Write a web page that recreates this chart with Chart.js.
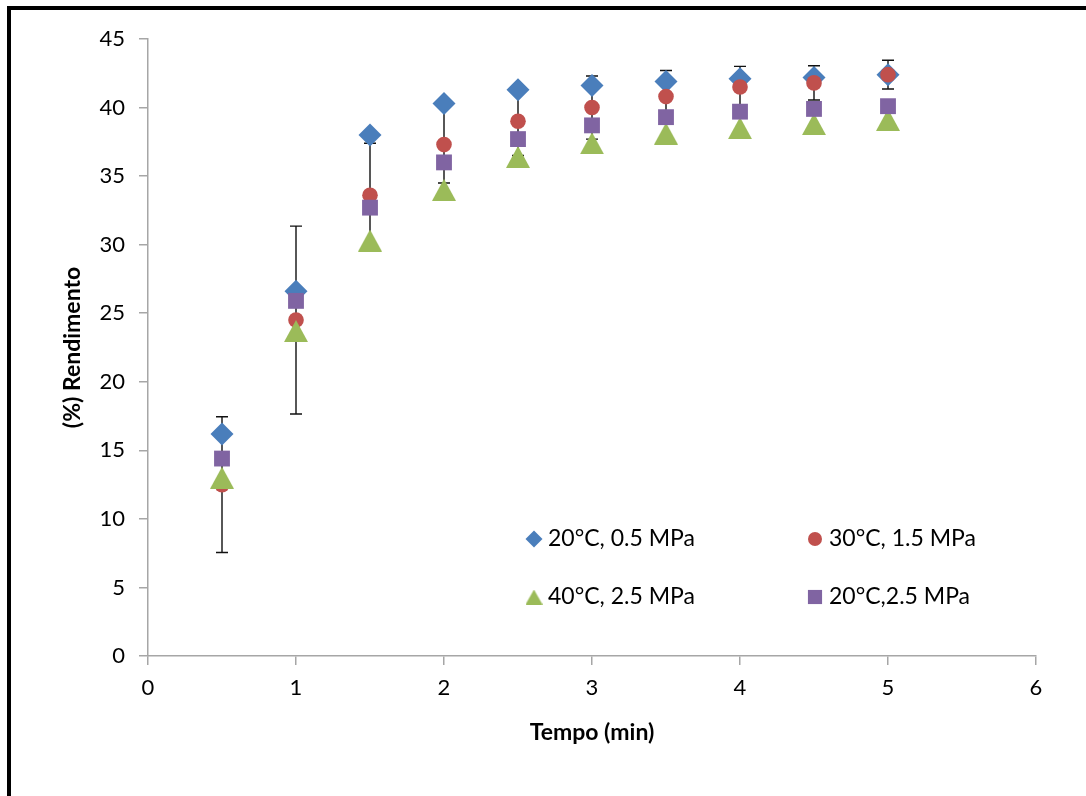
<!DOCTYPE html>
<html>
<head>
<meta charset="utf-8">
<script src="https://cdn.jsdelivr.net/npm/chart.js@4.4.1/dist/chart.umd.min.js"></script>
<style>
    html, body { margin: 0; padding: 0; background: #fff; }
    #wrap { width: 1086px; height: 796px; }
</style>
</head>
<body>
<div id="wrap"><canvas id="yieldChart" width="1086" height="796"></canvas></div>
<script>
// values
const times = [0.5, 1, 1.5, 2, 2.5, 3, 3.5, 4, 4.5, 5];
const yield20_05 = [16.2, 26.6, 38.0, 40.3, 41.3, 41.6, 41.9, 42.1, 42.2, 42.4];
const yield30_15 = [12.5, 24.5, 33.6, 37.3, 39.0, 40.0, 40.8, 41.5, 41.8, 42.4];
const yield40_25 = [13.0, 23.7, 30.3, 34.0, 36.4, 37.4, 38.1, 38.5, 38.8, 39.1];
const yield20_25 = [14.4, 25.9, 32.7, 36.0, 37.7, 38.7, 39.3, 39.7, 39.9, 40.1];
// +/- error on the 30°C, 1.5 MPa series
const err30_15 = [4.95, 6.85, 3.8, 2.8, 2.5, 2.3, 1.9, 1.5, 1.25, 1.05];

const seriesLabels = ['20°C, 0.5 MPa', '30°C, 1.5 MPa', '40°C, 2.5 MPa', '20°C,2.5 MPa'];
const xTicks = [0, 1, 2, 3, 4, 5, 6];
const yTicks = [0, 5, 10, 15, 20, 25, 30, 35, 40, 45];

const FONT = 'Lato, Carlito, "Open Sans", sans-serif';
const AXIS_GREY = '#a6a6a6';
const GREEN = '#9bbb59';

function toPoints(ys) {
    return times.map((t, i) => ({ x: t, y: ys[i] }));
}

// Excel-style triangle: centred on its bounding box, not its circumcentre
function triangleMarker(w, h, color) {
    const c = document.createElement('canvas');
    c.width = w;
    c.height = h;
    const g = c.getContext('2d');
    g.fillStyle = color;
    g.beginPath();
    g.moveTo(w / 2, 0);
    g.lineTo(w, h);
    g.lineTo(0, h);
    g.closePath();
    g.fill();
    return c;
}
const triBig = triangleMarker(24, 22, GREEN);
const triSmall = triangleMarker(17, 15, GREEN);

// white page + black frame on left / top
const framePlugin = {
    id: 'frame',
    beforeDraw(chart) {
        const ctx = chart.ctx;
        ctx.save();
        ctx.fillStyle = '#fff';
        ctx.fillRect(0, 0, chart.width, chart.height);
        ctx.fillStyle = '#000';
        ctx.fillRect(7, 6, chart.width - 7, 4);
        ctx.fillRect(7, 6, 4, chart.height - 6);
        ctx.restore();
    }
};

// vertical error bars, drawn under the markers
const errorBarPlugin = {
    id: 'errorBars',
    beforeDatasetsDraw(chart) {
        const ctx = chart.ctx;
        const xs = chart.scales.x;
        const ys = chart.scales.y;
        ctx.save();
        ctx.strokeStyle = '#111';
        ctx.lineWidth = 1.4;
        times.forEach((t, i) => {
            const px = xs.getPixelForValue(t);
            const top = ys.getPixelForValue(yield30_15[i] + err30_15[i]);
            const bot = ys.getPixelForValue(yield30_15[i] - err30_15[i]);
            ctx.beginPath();
            ctx.moveTo(px, top);
            ctx.lineTo(px, bot);
            ctx.moveTo(px - 6, top);
            ctx.lineTo(px + 6, top);
            ctx.moveTo(px - 6, bot);
            ctx.lineTo(px + 6, bot);
            ctx.stroke();
        });
        ctx.restore();
    }
};

// 2x2 legend inside the plot, lower right
const insideLegend = {
    id: 'insideLegend',
    afterDraw(chart) {
        const ctx = chart.ctx;
        const cols = [534, 815];
        const rows = [539, 597];
        const radii = { rectRot: 8.5, circle: 7, rect: 10 };
        ctx.save();
        chart.data.datasets.forEach((ds, i) => {
            const x = cols[i % 2];
            const y = rows[Math.floor(i / 2)];
            ctx.fillStyle = ds.backgroundColor;
            const style = ds.pointStyle === triBig ? triSmall : ds.pointStyle;
            Chart.helpers.drawPoint(ctx, { pointStyle: style, radius: radii[style] || 8, rotation: 0, borderWidth: 0 }, x, y);
            ctx.fillStyle = '#000';
            ctx.font = '23px ' + FONT;
            ctx.textBaseline = 'middle';
            ctx.fillText(ds.label, x + 14, y);
        });
        ctx.restore();
    }
};

const ctx = document.getElementById('yieldChart').getContext('2d');
new Chart(ctx, {
    type: 'scatter',
    data: {
        datasets: [
            { label: seriesLabels[0], data: toPoints(yield20_05), pointStyle: 'rectRot', pointRadius: 11.5,
              backgroundColor: '#4a7ebb', borderWidth: 0, order: 4 },
            { label: seriesLabels[1], data: toPoints(yield30_15), pointStyle: 'circle', pointRadius: 7.8,
              backgroundColor: '#c0504d', borderWidth: 0, order: 3 },
            { label: seriesLabels[2], data: toPoints(yield40_25), pointStyle: triBig, pointRadius: 12,
              backgroundColor: GREEN, borderWidth: 0, order: 2 },
            { label: seriesLabels[3], data: toPoints(yield20_25), pointStyle: 'rect', pointRadius: 11.2,
              backgroundColor: '#8064a2', borderWidth: 0, order: 1 }
        ]
    },
    options: {
        responsive: false,
        animation: false,
        layout: { padding: { top: 39, right: 50, left: 0, bottom: 0 } },
        plugins: {
            legend: { display: false },
            tooltip: { enabled: false }
        },
        elements: { point: { hoverRadius: 0 } },
        scales: {
            x: {
                type: 'linear',
                min: 0,
                max: 6,
                afterFit: (scale) => { scale.height = 140; },
                afterBuildTicks: (scale) => { scale.ticks = xTicks.map(v => ({ value: v })); },
                ticks: { color: '#000', padding: 10, font: { family: FONT, size: 22 } },
                grid: { drawOnChartArea: false, tickLength: 9, color: AXIS_GREY, lineWidth: 1.5 },
                border: { color: AXIS_GREY, width: 1.5 },
                title: {
                    display: true,
                    text: 'Tempo (min)',
                    color: '#000',
                    font: { family: FONT, size: 23, weight: 'bold' },
                    padding: { top: 0, bottom: 50 }
                }
            },
            y: {
                type: 'linear',
                min: 0,
                max: 45,
                afterFit: (scale) => { scale.width = 148; },
                afterBuildTicks: (scale) => { scale.ticks = yTicks.map(v => ({ value: v })); },
                ticks: { color: '#000', padding: 14, font: { family: FONT, size: 22 } },
                grid: { drawOnChartArea: false, tickLength: 9, color: AXIS_GREY, lineWidth: 1.5 },
                border: { color: AXIS_GREY, width: 1.5 },
                title: {
                    display: true,
                    text: '(%) Rendimento',
                    color: '#000',
                    font: { family: FONT, size: 23, weight: 'bold' },
                    padding: { top: 59, bottom: 0 }
                }
            }
        }
    },
    plugins: [framePlugin, errorBarPlugin, insideLegend]
});
</script>
</body>
</html>
